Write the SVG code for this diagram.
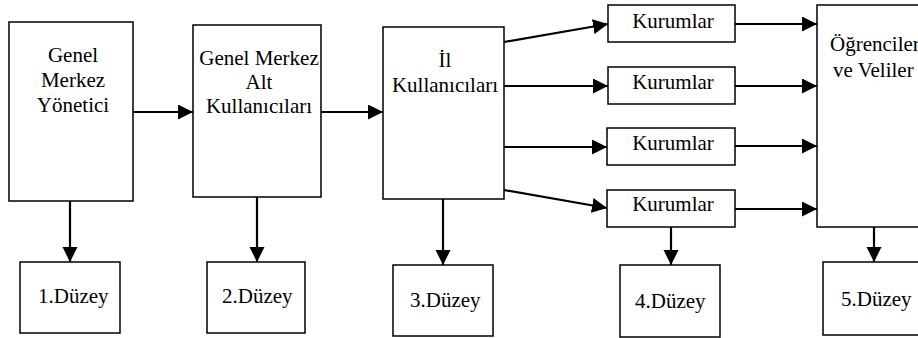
<svg xmlns="http://www.w3.org/2000/svg" width="918" height="338" viewBox="0 0 918 338" font-family="Liberation Serif, DejaVu Serif, serif" font-size="21">
<style>
.box{fill:#fff;stroke:#000;stroke-width:1.5}
text{font-family:"Liberation Serif","DejaVu Serif",serif;font-size:21px;fill:#000}
.c{text-anchor:middle}
.ln{stroke:#000;stroke-width:2.2;fill:none;marker-end:url(#ah)}
</style>
<defs>
<marker id="ah" markerUnits="userSpaceOnUse" markerWidth="16" markerHeight="16" refX="15" refY="7.5" orient="auto" viewBox="0 0 16 16">
<path d="M0,0 L15,7.5 L0,15 z" fill="#000"/>
</marker>
</defs>
<rect width="918" height="338" fill="#fff"/>
<g id="connectors">
<line class="ln" x1="133" y1="112" x2="193" y2="112"/>
<line class="ln" x1="321" y1="112" x2="383" y2="112"/>
<line class="ln" x1="70" y1="201" x2="70" y2="262"/>
<line class="ln" x1="257" y1="197" x2="257" y2="262"/>
<line class="ln" x1="443" y1="199" x2="443" y2="265"/>
<line class="ln" x1="504" y1="42" x2="608" y2="24"/>
<line class="ln" x1="504" y1="86" x2="608" y2="86"/>
<line class="ln" x1="504" y1="147" x2="607" y2="147"/>
<line class="ln" x1="504" y1="190" x2="607" y2="208"/>
<line class="ln" x1="735" y1="24" x2="817" y2="24"/>
<line class="ln" x1="735" y1="86" x2="817" y2="86"/>
<line class="ln" x1="735" y1="146" x2="817" y2="146"/>
<line class="ln" x1="735" y1="209" x2="817" y2="209"/>
<line class="ln" x1="671" y1="227" x2="671" y2="265"/>
<line class="ln" x1="874" y1="227" x2="874" y2="262"/>
</g>
<g id="n1"><rect class="box" x="9" y="22" width="124" height="179"/>
<text class="c" x="73" y="62">Genel</text><text class="c" x="73" y="87">Merkez</text><text class="c" x="73" y="112">Yönetici</text></g>
<g id="n2"><rect class="box" x="193" y="25" width="128" height="172"/>
<text class="c" x="259" y="65">Genel Merkez</text><text class="c" x="259" y="89">Alt</text><text class="c" x="259" y="113">Kullanıcıları</text></g>
<g id="n3"><rect class="box" x="383" y="27" width="121" height="172"/>
<text class="c" x="445" y="67">İl</text><text class="c" x="445" y="92">Kullanıcıları</text></g>
<g id="k1"><rect class="box" x="608" y="5" width="127" height="37"/><text class="c" x="673" y="28">Kurumlar</text></g>
<g id="k2"><rect class="box" x="608" y="67" width="127" height="37"/><text class="c" x="673" y="89">Kurumlar</text></g>
<g id="k3"><rect class="box" x="607" y="128" width="128" height="37"/><text class="c" x="673" y="150">Kurumlar</text></g>
<g id="k4"><rect class="box" x="607" y="190" width="128" height="37"/><text class="c" x="673" y="211">Kurumlar</text></g>
<g id="n5"><rect class="box" x="817" y="5" width="120" height="222"/>
<text x="830" y="51">Öğrenciler</text><text x="833" y="77">ve Veliler</text></g>
<g id="l1"><rect class="box" x="20" y="262" width="100" height="71"/><text x="38" y="303">1.Düzey</text></g>
<g id="l2"><rect class="box" x="207" y="262" width="98" height="71"/><text x="222" y="303">2.Düzey</text></g>
<g id="l3"><rect class="box" x="393" y="265" width="100" height="71"/><text x="410" y="307">3.Düzey</text></g>
<g id="l4"><rect class="box" x="620" y="265" width="100" height="72"/><text x="635" y="308">4.Düzey</text></g>
<g id="l5"><rect class="box" x="823" y="262" width="110" height="73"/><text x="841" y="306">5.Düzey</text></g>
</svg>
